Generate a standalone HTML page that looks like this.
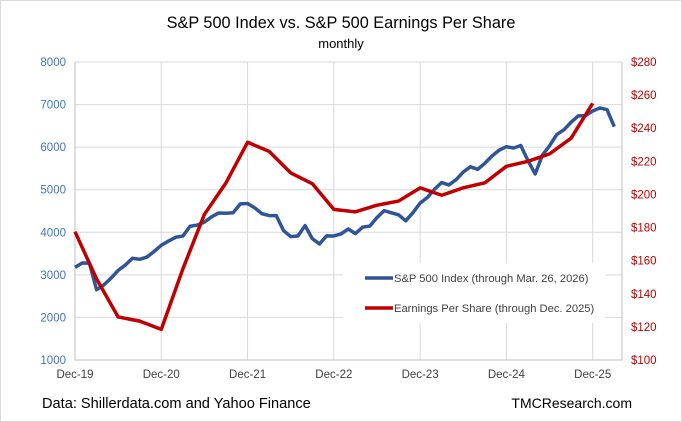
<!DOCTYPE html>
<html><head><meta charset="utf-8"><style>
body{margin:0;background:#fff;}
svg{display:block;font-family:"Liberation Sans",Arial,sans-serif;}
</style></head><body>
<svg id="chart" width="682" height="422" viewBox="0 0 682 422">
<rect x="0.5" y="0.5" width="681" height="421" fill="#fff" stroke="#d9d9d9"/>
<text x="341" y="28" text-anchor="middle" font-size="16.3" fill="#000">S&amp;P 500 Index vs. S&amp;P 500 Earnings Per Share</text>
<text x="341" y="48" text-anchor="middle" font-size="13" fill="#000">monthly</text>
<g id="grid"></g>
<g id="axes"></g>
<g id="series"></g>
<g>
<rect x="343" y="263" width="262" height="60" fill="#fff"/>
<line x1="365" y1="278" x2="393" y2="278" stroke="#2F5597" stroke-width="3.5"/>
<text x="394" y="282" font-size="11.2" fill="#404040">S&amp;P 500 Index (through Mar. 26, 2026)</text>
<line x1="365" y1="308" x2="393" y2="308" stroke="#C00000" stroke-width="3.5"/>
<text x="394" y="312" font-size="11.2" fill="#404040">Earnings Per Share (through Dec. 2025)</text>
</g>
<text x="42" y="408" font-size="14.6" fill="#000">Data: Shillerdata.com and Yahoo Finance</text>
<text x="632" y="408" text-anchor="end" font-size="14" fill="#000">TMCResearch.com</text>
</svg>
<script>
const xLabels=["Dec-19","Dec-20","Dec-21","Dec-22","Dec-23","Dec-24","Dec-25"];
const leftTicks=[1000,2000,3000,4000,5000,6000,7000,8000];
const rightTicks=[100,120,140,160,180,200,220,240,260,280];
const spMonths=[0,1,2,3,4,5,6,7,8,9,10,11,12,13,14,15,16,17,18,19,20,21,22,23,24,25,26,27,28,29,30,31,32,33,34,35,36,37,38,39,40,41,42,43,44,45,46,47,48,49,50,51,52,53,54,55,56,57,58,59,60,61,62,63,64,65,66,67,68,69,70,71,72,73,74,75];
const spValues=[3177,3278,3277,2652,2762,2920,3105,3230,3391,3365,3418,3549,3695,3794,3883,3911,4141,4168,4238,4364,4454,4446,4460,4667,4675,4573,4436,4392,4391,4040,3899,3912,4158,3851,3726,3917,3913,3960,4079,3968,4121,4146,4346,4509,4458,4410,4269,4460,4686,4816,5011,5170,5112,5235,5415,5538,5478,5621,5792,5930,6010,5980,6039,5684,5370,5810,6030,6296,6408,6585,6735,6740,6850,6920,6880,6480];
const epsMonths=[0,3,6,9,12,15,18,21,24,27,30,33,36,39,42,45,48,51,54,57,60,63,66,69,72];
const epsValues=[177.5,149,126,123.5,118.5,155,188,207,231.5,226,213,206.5,191,189.5,193.5,196,204,199.5,204,207,217,220,224.5,234,255];
const NS="http://www.w3.org/2000/svg";
const X0=75,MW=7.19,L=75,R=622,T=62,B=360;
const xM=m=>X0+m*MW;
const yL=v=>B-(v-1000)/7000*(B-T);
const yR=v=>B-(v-100)/180*(B-T);
function mk(tag,attrs,parent){const e=document.createElementNS(NS,tag);for(const k in attrs)e.setAttribute(k,attrs[k]);parent.appendChild(e);return e;}
const grid=document.getElementById('grid'),axes=document.getElementById('axes'),series=document.getElementById('series');
leftTicks.forEach((v,i)=>{
 if(v>1000){const g=mk('line',{x1:L,x2:R,y1:yL(v),y2:yL(v),stroke:'#d9d9d9','stroke-width':1},grid);
 
 }
 const t=mk('text',{x:66,y:yL(v)+4,'text-anchor':'end','font-size':11.5,fill:'#4472C4'},axes);t.textContent=v;
 
 
});
rightTicks.forEach(v=>{
 const t=mk('text',{x:631,y:yR(v)+4,'font-size':11.5,fill:'#C00000'},axes);t.textContent='$'+v;
 
 
});
xLabels.forEach((s,i)=>{
 const x=xM(i*12);
 if(i>0){const g=mk('line',{x1:x,x2:x,y1:T,y2:B,stroke:'#d9d9d9','stroke-width':1},grid);
 
 }
 const t=mk('text',{x:x,y:378,'text-anchor':'middle','font-size':11.5,fill:'#404040'},axes);t.textContent=s;
 
 
});
const ax=mk('path',{d:`M${L},${T}V${B}H${R}V${T}`,fill:'none',stroke:'#bfbfbf','stroke-width':1},axes);


const sp=mk('polyline',{points:spMonths.map((m,i)=>xM(m)+','+yL(spValues[i])).join(' '),fill:'none',stroke:'#2F5597','stroke-width':3.5,'stroke-linejoin':'round'},series);


const ep=mk('polyline',{points:epsMonths.map((m,i)=>xM(m)+','+yR(epsValues[i])).join(' '),fill:'none',stroke:'#C00000','stroke-width':3.5,'stroke-linejoin':'round'},series);


</script>
</body></html>
